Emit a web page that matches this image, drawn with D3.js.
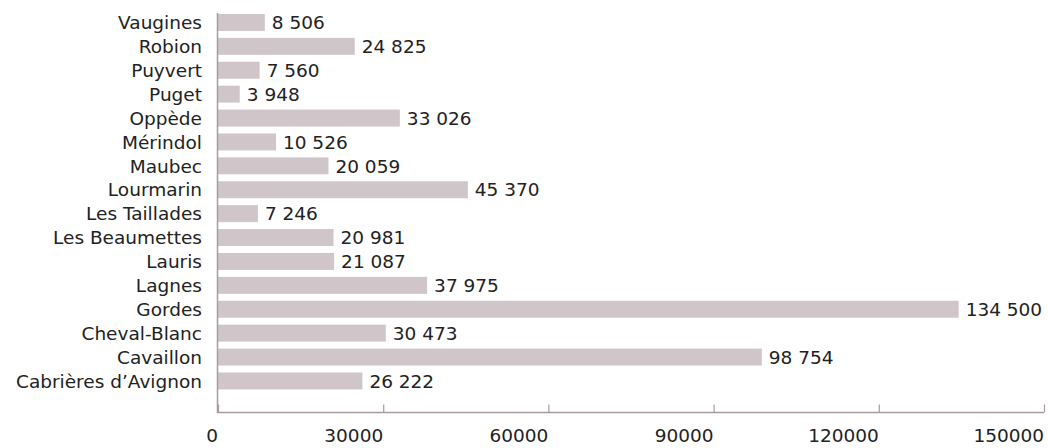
<!DOCTYPE html>
<meta charset="utf-8">
<script src="https://d3js.org/d3.v7.js"></script>
<style>
  body { margin: 0; background: #fff; }
  text { font-family: "DejaVu Sans", sans-serif; fill: #222; }
</style>
<svg id="chart" width="1048" height="448"></svg>
<script>

// communes, top to bottom as in the chart
const communes = ["Vaugines", "Robion", "Puyvert", "Puget", "Oppède", "Mérindol", "Maubec",
  "Lourmarin", "Les Taillades", "Les Beaumettes", "Lauris", "Lagnes", "Gordes",
  "Cheval-Blanc", "Cavaillon", "Cabrières d’Avignon"];
const valeurs = [8506, 24825, 7560, 3948, 33026, 10526, 20059, 45370, 7246, 20981,
  21087, 37975, 134500, 30473, 98754, 26222];
const ticks = [0, 30000, 60000, 90000, 120000, 150000];

const svg = d3.select("#chart");
const left = 218, right = 1044, axisY = 412.5;
const fontSize = "18.5px";

const x = d3.scaleLinear().domain([0, 150000]).range([left, right]);
const y = d3.scaleBand()
  .domain(communes)
  .range([10.5, 392.9])
  .paddingInner(0.29)
  .paddingOuter(0.145);

const axisColor = "#a99aa0";
const barColor = "#d0c6ca";

// bars
svg.append("g")
  .selectAll("rect")
  .data(communes)
  .join("rect")
    .attr("x", x(0))
    .attr("y", d => y(d))
    .attr("width", (d, i) => x(valeurs[i]) - x(0))
    .attr("height", y.bandwidth())
    .attr("fill", barColor);

// value labels, thousands split by a space
const fmt = v => d3.format(",")(v).replace(/,/g, " ");
svg.append("g")
  .selectAll("text")
  .data(communes)
  .join("text")
    .attr("x", (d, i) => x(valeurs[i]) + 7)
    .attr("y", d => y(d) + y.bandwidth() / 2)
    .attr("dy", "0.36em")
    .style("font-size", fontSize)
    .text((d, i) => fmt(valeurs[i]));

// category labels
svg.append("g")
  .selectAll("text")
  .data(communes)
  .join("text")
    .attr("x", 202)
    .attr("y", d => y(d) + y.bandwidth() / 2)
    .attr("dy", "0.36em")
    .attr("text-anchor", "end")
    .style("font-size", fontSize)
    .text(d => d);

// vertical axis line
svg.append("line")
  .attr("x1", left - 0.5).attr("x2", left - 0.5)
  .attr("y1", 13).attr("y2", axisY)
  .attr("stroke", axisColor).attr("stroke-width", 1.5);

// x axis
const xAxis = svg.append("g")
  .attr("transform", `translate(0,${axisY})`)
  .call(d3.axisTop(x).tickValues(ticks).tickSize(8).tickFormat(""));
xAxis.select(".domain").attr("stroke", axisColor).attr("stroke-width", 1.5)
  .attr("d", `M${left - 1.25},0H${right}`);
xAxis.selectAll(".tick line").attr("stroke", axisColor).attr("stroke-width", 1.2);

svg.append("g")
  .selectAll("text")
  .data(ticks)
  .join("text")
    .attr("x", d => x(d))
    .attr("y", 442)
    .attr("text-anchor", "end")
    .style("font-size", fontSize)
    .text(d => d);

</script>
